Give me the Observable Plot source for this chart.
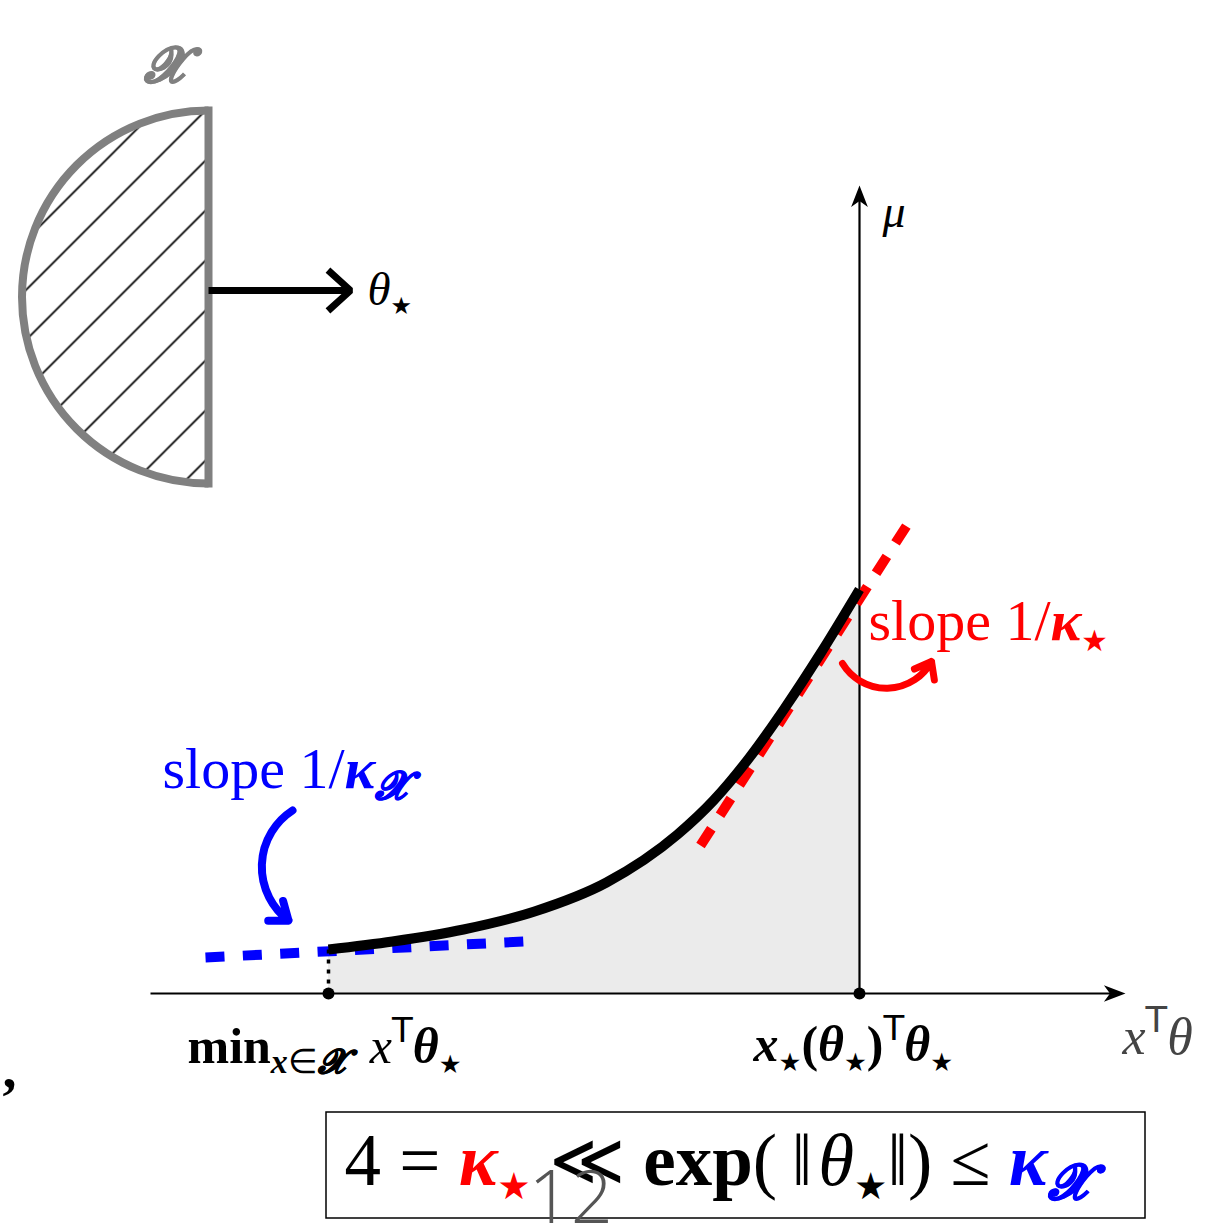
<!DOCTYPE html>
<html>
<head>
<meta charset="utf-8">
<script src="https://cdn.jsdelivr.net/npm/d3@7"></script>
<script src="https://cdn.jsdelivr.net/npm/@observablehq/plot@0.6"></script>
<style>
  html, body { margin: 0; padding: 0; background: #fff; }
  svg { display: block; }
</style>
</head>
<body>
<div id="chart"></div>
<script>
// ---------- data (x = xᵀθ, mu = μ ; origin at the axes' crossing) ----------
const curveX   = [-5.31, -4.67, -3.96, -3.25, -2.53, -1.82, -1.46, -1.10, -0.75, -0.39, 0.00];
const curveMu  = [ 0.44,  0.52,  0.64,  0.82,  1.11,  1.59,  1.93,  2.36,  2.85,  3.40, 4.04];

const blueTangentX  = [-6.54, -3.36];
const blueTangentMu = [ 0.36,  0.52];
const redTangentX   = [-1.59,  0.55];
const redTangentMu  = [ 1.48,  4.80];

const tickX      = [-5.31, 0.00];
const tickLabels = ["{b:min}_{{bi:x}∈{bi:𝓧}}  {i:x}^{{sf:T}}{bi:θ}_{★}",
                    "{bi:x}_{★}{b:(}{bi:θ}_{★}{b:)}^{{sf:T}}{bi:θ}_{★}"];
const tickLabelX  = [-6.72, -1.06];
const tickLabelMu = [-0.69, -0.67];

const xAxisFrom = [-7.09, 0], xAxisTo = [2.66, 0];
const muAxisFrom = [0, 0],    muAxisTo = [0, 8.08];

// the set 𝓧 (half disc) and θ⋆ direction
const setEdgeX = -6.51, setTopMu = 8.83, setBottomMu = 5.10;
const thetaFrom = [-6.51, 7.03], thetaTo = [-5.09, 7.03];

// curved pointers
const bluePointer = {x1: -5.67, y1: 1.83, x2: -5.71, y2: 0.73};
const redPointer  = {x1: -0.17, y1: 3.30, x2:  0.72, y2: 3.32};

// texts
const setLabel    = {x: -7.16, y: 9.12, text: "{bi:𝓧}"};
const thetaLabel  = {x: -4.92, y: 6.89, text: "{i:θ}_{★}"};
const muLabel     = {x:  0.23, y: 7.67, text: "{i:μ}"};
const blueSlope   = {x: -6.97, y: 2.06, text: "slope 1/{bi:κ}_{{bi:𝓧}}"};
const redSlope    = {x:  0.09, y: 3.54, text: "slope 1/{bi:κ}_{★}"};
const xAxisLabel  = {x:  2.63, y: -0.60, text: "{i:x}^{{sf:T}}{i:θ}"};
const commaLabel  = {x: -8.57, y: -0.93, text: ","};
const boxText     = {x: -5.15, y: -1.91, text: "4 = {red:{bi:κ}_{★}} ≪ {b:exp}(\u2009‖\u200a{i:θ}_{★}‖) ≤ {blue:{bi:κ}_{{bi:𝓧}}}"};
const pageNumber  = {x: -3.31, y: -2.29, text: "12"};
const boxRect     = {x1: -5.33, x2: 2.86, y1: -1.19, y2: -2.25};

// ---------- tiny math markup -> tspans ----------
function matchBrace(s, i) {
  let depth = 0;
  for (let j = i; j < s.length; j++) {
    if (s[j] === "{") depth++;
    else if (s[j] === "}") { depth--; if (depth === 0) return j; }
  }
  return s.length;
}
function parse(s, st = {scale: 1, shift: 0}) {
  const out = []; let buf = "", i = 0;
  const flush = () => { if (buf) { out.push({...st, text: buf}); buf = ""; } };
  while (i < s.length) {
    const c = s[i];
    if ((c === "_" || c === "^") && s[i + 1] === "{") {
      const j = matchBrace(s, i + 1); flush();
      const sc = st.scale;
      const nst = {...st, scale: sc * 0.68, shift: st.shift + (c === "_" ? 0.2 * sc : -0.42 * sc)};
      out.push(...parse(s.slice(i + 2, j), nst)); i = j + 1;
    } else if (c === "{") {
      const j = matchBrace(s, i); flush();
      const inner = s.slice(i + 1, j), k = inner.indexOf(":");
      out.push(...parse(inner.slice(k + 1), {...st, [inner.slice(0, k)]: true})); i = j + 1;
    } else { buf += c; i++; }
  }
  flush();
  return out;
}
const plain = (m) => parse(m).map((d) => d.text).join("");

function richify(svg, labels) {
  const byPlain = new Map(labels.map((m) => [plain(m), m]));
  const NS = "http://www.w3.org/2000/svg";
  svg.querySelectorAll("text").forEach((el) => {
    const m = byPlain.get(el.textContent);
    if (m === undefined) return;
    const cs = getComputedStyle(el);
    const base = parseFloat(cs.fontSize);
    const baseFill = cs.fill;
    const y = el.getAttribute("y");
    if (y && y.endsWith("em")) el.setAttribute("y", "0");
    el.style.whiteSpace = "pre";
    el.textContent = "";
    let cur = 0;
    for (const s of parse(m)) {
      const t = document.createElementNS(NS, "tspan");
      const shift = s.shift * base;
      const star = s.text === "★";
      t.setAttribute("font-size", (base * s.scale * (star ? 0.75 : 1)).toFixed(2));
      if (Math.abs(shift - cur) > 1e-6) { t.setAttribute("dy", (shift - cur).toFixed(2)); cur = shift; }
      if (s.i || s.bi) t.setAttribute("font-style", "italic");
      if (s.b || s.bi) t.setAttribute("font-weight", "bold");
      if (s.sf || star) t.setAttribute("font-family", "DejaVu Sans, sans-serif");
      const fill = s.red ? "#ff0000" : s.blue ? "#0000ff" : baseFill;
      if (s.red || s.blue) t.setAttribute("fill", fill);
      if (s.bi && /𝓧/u.test(s.text)) { t.setAttribute("stroke", fill); t.setAttribute("stroke-width", (base * s.scale * 0.018).toFixed(2)); }
      t.textContent = s.text.replace(/ /g, "\u00a0");
      el.appendChild(t);
    }
  });
}

// ---------- marks ----------
const curve = curveX.map((x, i) => ({x, mu: curveMu[i]}));
const blueTan = blueTangentX.map((x, i) => ({x, mu: blueTangentMu[i]}));
const redTan = redTangentX.map((x, i) => ({x, mu: redTangentMu[i]}));
const ticks = tickX.map((x) => ({x, mu: 0}));
const tickText = tickLabels.map((t, i) => ({x: tickLabelX[i], y: tickLabelMu[i], text: t}));

const stealth = {
  draw(ctx, size) {
    const r = Math.sqrt(size / Math.PI);
    ctx.moveTo(0, 0);
    ctx.lineTo(-0.62 * r, 1.6 * r);
    ctx.lineTo(0, 1.15 * r);
    ctx.lineTo(0.62 * r, 1.6 * r);
    ctx.closePath();
  }
};

const txt = (d, opts) => Plot.text([d], {x: "x", y: "y", text: (e) => plain(e.text), textAnchor: "start", lineAnchor: "bottom", ...opts});

const plot = Plot.plot({
  width: 1209,
  height: 1225,
  margin: 0,
  x: {domain: [-8.59, 3.50], axis: null},
  y: {domain: [-2.32, 9.93], axis: null},
  style: {fontFamily: "Liberation Serif, serif", background: "#fff", overflow: "visible"},
  marks: [
    // area under μ
    Plot.areaY(curve, {x: "x", y: "mu", fill: "#ebebeb", curve: "monotone-x"}),
    // half disc 𝓧 with hatching
    Plot.arrow([{x1: setEdgeX, y1: setBottomMu, x2: setEdgeX, y2: setTopMu}],
      {x1: "x1", y1: "y1", x2: "x2", y2: "y2", bend: 90, headLength: 0,
       fill: "url(#hatch)", stroke: "#808080", strokeWidth: 8, strokeLinecap: "butt"}),
    Plot.link([{x1: setEdgeX, y1: setBottomMu, x2: setEdgeX, y2: setTopMu}],
      {x1: "x1", y1: "y1", x2: "x2", y2: "y2", stroke: "#808080", strokeWidth: 8, strokeLinecap: "square"}),
    // θ⋆ arrow
    Plot.arrow([{x1: thetaFrom[0], y1: thetaFrom[1], x2: thetaTo[0], y2: thetaTo[1]}],
      {x1: "x1", y1: "y1", x2: "x2", y2: "y2", stroke: "#000", strokeWidth: 7, headLength: 6.5, headAngle: 84, strokeLinecap: "butt"}),
    // axes
    Plot.link([{x1: xAxisFrom[0], y1: xAxisFrom[1], x2: xAxisTo[0] - 0.08, y2: xAxisTo[1]}],
      {x1: "x1", y1: "y1", x2: "x2", y2: "y2", stroke: "#000", strokeWidth: 2.2}),
    Plot.link([{x1: muAxisFrom[0], y1: muAxisFrom[1], x2: muAxisTo[0], y2: muAxisTo[1] - 0.08}],
      {x1: "x1", y1: "y1", x2: "x2", y2: "y2", stroke: "#000", strokeWidth: 2.2}),
    Plot.dot([{x: xAxisTo[0], y: xAxisTo[1]}], {x: "x", y: "y", symbol: stealth, r: 13.5, rotate: 90, fill: "#000", stroke: "none"}),
    Plot.dot([{x: muAxisTo[0], y: muAxisTo[1]}], {x: "x", y: "y", symbol: stealth, r: 13.5, rotate: 0, fill: "#000", stroke: "none"}),
    // tangents
    Plot.line(blueTan, {x: "x", y: "mu", stroke: "#0000ff", strokeWidth: 10, strokeDasharray: "19,18.4", strokeLinecap: "butt"}),
    Plot.line(redTan, {x: "x", y: "mu", stroke: "#ff0000", strokeWidth: 10, strokeDasharray: "20,16", strokeLinecap: "butt"}),
    // μ curve
    Plot.line(curve, {x: "x", y: "mu", stroke: "#000", strokeWidth: 10, curve: "monotone-x", strokeLinecap: "butt"}),
    // dotted drop line + tick dots
    Plot.link([{x: tickX[0], y1: curveMu[0], y2: 0}], {x1: "x", x2: "x", y1: "y1", y2: "y2", stroke: "#000", strokeWidth: 3.5, strokeDasharray: "4,6"}),
    Plot.dot(ticks, {x: "x", y: "mu", r: 6, fill: "#000", stroke: "none"}),
    // curved pointers
    Plot.arrow([bluePointer], {x1: "x1", y1: "y1", x2: "x2", y2: "y2", bend: -55, stroke: "#0000ff", strokeWidth: 8, headLength: 3.8, headAngle: 75}),
    Plot.arrow([redPointer], {x1: "x1", y1: "y1", x2: "x2", y2: "y2", bend: -60, stroke: "#ff0000", strokeWidth: 7, headLength: 4, headAngle: 75}),
    // box
    Plot.rect([boxRect], {x1: "x1", x2: "x2", y1: "y1", y2: "y2", fill: "none", stroke: "#000", strokeWidth: 1.5}),
    // texts
    txt(setLabel, {fill: "#808080", fontSize: 50}),
    txt(thetaLabel, {fill: "#000", fontSize: 47}),
    txt(muLabel, {fill: "#000", fontSize: 46}),
    txt(blueSlope, {fill: "#0000ff", fontSize: 58}),
    txt(redSlope, {fill: "#ff0000", fontSize: 58}),
    Plot.text(tickText, {x: "x", y: "y", text: (e) => plain(e.text), textAnchor: "start", lineAnchor: "bottom", fill: "#000", fontSize: 50}),
    txt(xAxisLabel, {fill: "#444", fontSize: 52}),
    txt(commaLabel, {fill: "#000", fontSize: 56, fontWeight: "bold"}),
    txt(boxText, {fill: "#000", fontSize: 73}),
    txt(pageNumber, {fill: "#555", fontSize: 74, fontFamily: "Open Sans, sans-serif", fontWeight: 300})
  ]
});

document.getElementById("chart").appendChild(plot);

// hatch pattern for the set 𝓧
const defs = d3.select(plot).insert("defs", ":first-child");
const pat = defs.append("pattern").attr("id", "hatch").attr("patternUnits", "userSpaceOnUse")
  .attr("width", 50).attr("height", 50).attr("x", 15).attr("y", 0);
pat.append("path").attr("d", "M-10,10L10,-10M0,50L50,0M40,60L60,40")
  .attr("stroke", "#000").attr("stroke-width", 1.7).attr("fill", "none");

richify(plot, [setLabel, thetaLabel, muLabel, blueSlope, redSlope, xAxisLabel, commaLabel, boxText, pageNumber]
  .map((d) => d.text).concat(tickLabels));
</script>
</body>
</html>
